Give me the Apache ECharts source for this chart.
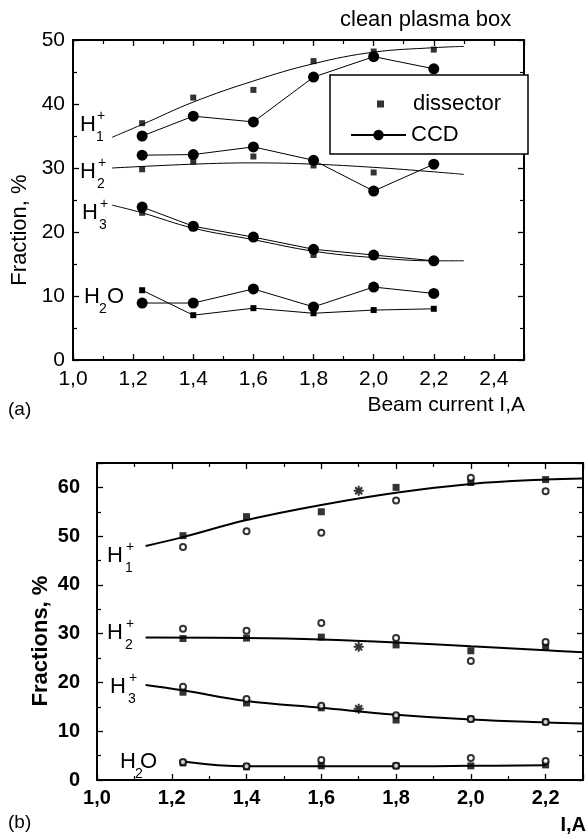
<!DOCTYPE html>
<html><head><meta charset="utf-8">
<script src="https://cdn.jsdelivr.net/npm/echarts@6/dist/echarts.min.js"></script>
<style>html,body{margin:0;padding:0;background:#fff}#c{width:586px;height:835px}</style>
</head><body><div id="c"></div>
<script>
// ---------- Panel (a) data ----------
const xA = [1.23, 1.4, 1.6, 1.8, 2.0, 2.2];
const aH1Dissector = [37.0, 41.0, 42.2, 46.7, 48.2, 48.5];
const aH1CCD = [35.0, 38.1, 37.2, 44.2, 47.4, 45.5];
const aH2Dissector = [29.8, 31.0, 31.8, 30.4, 29.3, 30.3];
const aH2CCD = [32.0, 32.1, 33.3, 31.2, 26.4, 30.6];
const aH3Dissector = [23.0, 20.6, 19.0, 16.4, 16.2, 15.5];
const aH3CCD = [23.9, 20.9, 19.2, 17.3, 16.4, 15.5];
const aH2ODissector = [10.9, 7.0, 8.1, 7.3, 7.8, 8.0];
const aH2OCCD = [8.9, 8.9, 11.1, 8.3, 11.4, 10.4];
const aH1FitX = [1.13, 1.23, 1.4, 1.6, 1.8, 2.0, 2.2, 2.3];
const aH1Fit = [34.8, 36.8, 40.3, 43.6, 46.3, 48.1, 48.8, 49.0];
const aH2FitX = [1.13, 1.4, 1.6, 1.8, 2.0, 2.2, 2.3];
const aH2Fit = [30.0, 30.6, 30.8, 30.6, 30.1, 29.4, 29.0];
const aH3FitX = [1.13, 1.23, 1.4, 1.6, 1.8, 2.0, 2.2, 2.3];
const aH3Fit = [24.2, 23.0, 20.6, 18.8, 17.0, 16.0, 15.5, 15.5];
const xTicksA = ['1,0', '1,2', '1,4', '1,6', '1,8', '2,0', '2,2', '2,4'];
const yTicksA = ['0', '10', '20', '30', '40', '50'];

// ---------- Panel (b) data ----------
const xB = [1.23, 1.4, 1.6, 1.8, 2.0, 2.2];
const bH1Square = [50.1, 54.0, 55.0, 60.0, 61.0, 61.6];
const bH1Circle = [47.8, 51.0, 50.7, 57.3, 62.0, 59.2];
const bH2Square = [29.0, 29.1, 29.3, 27.7, 26.5, 27.3];
const bH2Circle = [31.0, 30.6, 32.2, 29.1, 24.4, 28.3];
const bH3Square = [18.0, 15.8, 14.8, 12.3, 12.5, 11.9];
const bH3Circle = [19.1, 16.6, 15.2, 13.3, 12.5, 11.9];
const bH2OSquare = [3.5, 2.7, 2.9, 2.9, 2.9, 3.1];
const bH2OCircle = [3.7, 2.8, 4.1, 2.9, 4.5, 3.9];
const xStar = [1.7, 1.7, 1.7];
const bStar = [59.3, 27.3, 14.6];
const bH1FitX = [1.13, 1.23, 1.4, 1.6, 1.8, 2.0, 2.2, 2.3];
const bH1Fit = [48.0, 49.8, 53.3, 56.4, 58.9, 60.7, 61.6, 61.8];
const bH2FitX = [1.13, 1.4, 1.6, 1.8, 2.0, 2.2, 2.3];
const bH2Fit = [29.2, 29.1, 28.8, 28.2, 27.4, 26.6, 26.2];
const bH3FitX = [1.13, 1.23, 1.4, 1.6, 1.8, 2.0, 2.2, 2.3];
const bH3Fit = [19.5, 18.4, 16.2, 14.8, 13.4, 12.4, 11.8, 11.6];
const bH2OFitX = [1.23, 1.4, 1.6, 1.8, 2.0, 2.2];
const bH2OFit = [3.8, 2.8, 2.8, 2.8, 2.9, 3.0];
const xTicksB = ['1,0', '1,2', '1,4', '1,6', '1,8', '2,0', '2,2'];
const yTicksB = ['0', '10', '20', '30', '40', '50', '60'];

const FONT = 'Liberation Sans, Arial, sans-serif';
const zip = (xs, ys) => xs.map((x, i) => [x, ys[i]]);
const pick = (arr, v, start, step) => {
  const k = (v - start) / step, i = Math.round(k);
  return Math.abs(k - i) < 0.01 && arr[i] !== undefined ? arr[i] : '';
};

function axis(o) {
  return {
    type: 'value', gridIndex: o.grid, position: o.pos, min: o.min, max: o.max, interval: o.interval,
    axisLine: { show: true, onZero: false, lineStyle: { color: '#000', width: o.lw } },
    axisTick: { show: true, inside: true, length: 6, lineStyle: { color: '#000', width: 1.3 } },
    minorTick: { show: true, splitNumber: 2, length: 4, lineStyle: { color: '#000', width: 1.2 } },
    splitLine: { show: false },
    axisLabel: o.labels ? {
      show: true, margin: o.margin, color: '#000', fontFamily: FONT, fontSize: o.fs, fontWeight: o.fw || 'normal',
      showMaxLabel: true, showMinLabel: true, formatter: o.labels
    } : { show: false }
  };
}

const chart = echarts.init(document.getElementById('c'), null, { renderer: 'canvas' });

const sq = (name, g, xs, ys, size) => ({ name, type: 'scatter', xAxisIndex: g * 2, yAxisIndex: g * 2, symbol: 'rect', symbolSize: size, itemStyle: { color: '#000' }, z: 4, data: zip(xs, ys) });
const fit = (name, g, xs, ys, w) => ({ name, type: 'line', xAxisIndex: g * 2, yAxisIndex: g * 2, smooth: 0.4, symbol: 'none', lineStyle: { color: '#000', width: w }, z: 3, data: zip(xs, ys) });
const ccd = (name, xs, ys) => ({ name, type: 'line', xAxisIndex: 0, yAxisIndex: 0, symbol: 'circle', symbolSize: 11, showSymbol: true, lineStyle: { color: '#000', width: 1 }, itemStyle: { color: '#000' }, z: 5, data: zip(xs, ys) });
const openC = (name, xs, ys) => ({ name, type: 'scatter', xAxisIndex: 2, yAxisIndex: 2, symbol: 'emptyCircle', symbolSize: 6, itemStyle: { color: '#000', borderWidth: 1.6 }, z: 5, data: zip(xs, ys) });

const txt = (x, y, text, size, opts) => Object.assign({
  type: 'text', x, y, z: 30,
  style: { text, fill: '#000', font: (opts && opts.weight ? opts.weight + ' ' : '') + size + 'px ' + FONT,
    textAlign: (opts && opts.align) || 'left', textVerticalAlign: 'middle', align: (opts && opts.align) || 'left', verticalAlign: 'middle' }
}, opts && opts.rotation ? { rotation: opts.rotation } : {});

const hLabel = (x, y, sub, sup, size, subSize, dx) => {
  const els = [txt(x, y, 'H', size)];
  els.push(txt(x + dx, y + size * 0.55, sub, subSize));
  if (sup) els.push(txt(x + dx + 1, y - size * 0.38, sup, subSize));
  return els;
};

const graphics = [
  { type: 'rect', z: 10, shape: { x: 330, y: 75, width: 198, height: 79 }, style: { fill: '#fff', stroke: '#000', lineWidth: 1.5 } },
  txt(340, 20, 'clean plasma box', 22),
  txt(20, 230, 'Fraction, %', 22, { align: 'center', rotation: Math.PI / 2 }),
  txt(525, 405, 'Beam current I,A', 21, { align: 'right' }),
  txt(8, 410, '(a)', 19),
  txt(41, 641, 'Fractions, %', 22, { align: 'center', rotation: Math.PI / 2, weight: 'bold' }),
  txt(586, 825, 'I,A', 20, { align: 'right', weight: 'bold' }),
  txt(8, 823, '(b)', 19),
  ...hLabel(80, 125, '1', '+', 22, 14, 16),
  ...hLabel(80, 172, '2', '+', 22, 14, 17),
  ...hLabel(82, 213, '3', '+', 22, 14, 17),
  ...hLabel(84, 297, '2', null, 22, 14, 15),
  txt(107, 297, 'O', 22),
  ...hLabel(107, 556, '1', '+', 22, 14, 18),
  ...hLabel(107, 633, '2', '+', 22, 14, 18),
  ...hLabel(110, 687, '3', '+', 22, 14, 18),
  ...hLabel(120, 762, '2', null, 22, 14, 15),
  txt(140, 762, 'O', 22)
];

const option = {
  animation: false,
  backgroundColor: '#fff',
  grid: [
    { left: 73, top: 40, width: 451, height: 320 },
    { left: 97, top: 463, width: 493, height: 317 }
  ],
  xAxis: [
    axis({ grid: 0, pos: 'bottom', min: 1.0, max: 2.5, interval: 0.2, lw: 2, fs: 21, margin: 9, labels: v => pick(xTicksA, v, 1.0, 0.2) }),
    axis({ grid: 0, pos: 'top', min: 1.0, max: 2.5, interval: 0.2, lw: 2 }),
    axis({ grid: 1, pos: 'bottom', min: 1.0, max: 2.3, interval: 0.2, lw: 2, fs: 20, fw: 'bold', margin: 8, labels: v => pick(xTicksB, v, 1.0, 0.2) }),
    axis({ grid: 1, pos: 'top', min: 1.0, max: 2.3, interval: 0.2, lw: 2 })
  ],
  yAxis: [
    axis({ grid: 0, pos: 'left', min: 0, max: 50, interval: 10, lw: 2, fs: 21, margin: 8, labels: v => pick(yTicksA, v, 0, 10) }),
    axis({ grid: 0, pos: 'right', min: 0, max: 50, interval: 10, lw: 2 }),
    axis({ grid: 1, pos: 'left', min: 0, max: 65, interval: 10, lw: 2, fs: 20, fw: 'bold', margin: 17, labels: v => pick(yTicksB, v, 0, 10) }),
    axis({ grid: 1, pos: 'right', min: 0, max: 65, interval: 10, lw: 2 })
  ],
  legend: [
    { data: [{ name: 'dissector', icon: 'rect' }], left: 377, top: 93, padding: 0, itemWidth: 7, itemHeight: 7,
      selectedMode: false, z: 20, textStyle: { fontFamily: FONT, fontSize: 22, color: '#000', padding: [0, 0, 0, 24] } },
    { data: ['CCD'], left: 350, top: 124, padding: 0, itemWidth: 55, itemHeight: 13,
      selectedMode: false, z: 20, textStyle: { fontFamily: FONT, fontSize: 22, color: '#000' } }
  ],
  graphic: { elements: graphics },
  series: [
    sq('dissector', 0, xA, aH1Dissector, 6),
    ccd('CCD', xA, aH1CCD),
    fit('a H1 fit', 0, aH1FitX, aH1Fit, 1),
    sq('a H2 dissector', 0, xA, aH2Dissector, 6),
    ccd('a H2 CCD', xA, aH2CCD),
    fit('a H2 fit', 0, aH2FitX, aH2Fit, 1),
    sq('a H3 dissector', 0, xA, aH3Dissector, 6),
    ccd('a H3 CCD', xA, aH3CCD),
    fit('a H3 fit', 0, aH3FitX, aH3Fit, 1),
    Object.assign(sq('a H2O dissector', 0, xA, aH2ODissector, 6), { type: 'line', lineStyle: { color: '#000', width: 1 } }),
    ccd('a H2O CCD', xA, aH2OCCD),

    fit('b H1 fit', 1, bH1FitX, bH1Fit, 2),
    fit('b H2 fit', 1, bH2FitX, bH2Fit, 2),
    fit('b H3 fit', 1, bH3FitX, bH3Fit, 2),
    fit('b H2O fit', 1, bH2OFitX, bH2OFit, 2),
    sq('b H1 square', 1, xB, bH1Square, 7),
    sq('b H2 square', 1, xB, bH2Square, 7),
    sq('b H3 square', 1, xB, bH3Square, 7),
    sq('b H2O square', 1, xB, bH2OSquare, 7),
    openC('b H1 circle', xB, bH1Circle),
    openC('b H2 circle', xB, bH2Circle),
    openC('b H3 circle', xB, bH3Circle),
    openC('b H2O circle', xB, bH2OCircle),
    { name: 'b star', type: 'scatter', xAxisIndex: 2, yAxisIndex: 2, z: 6,
      symbol: 'path://M10,0L10,20M0,10L20,10M3,3L17,17M3,17L17,3', symbolSize: 10,
      itemStyle: { color: 'none', borderColor: '#000', borderWidth: 2 }, data: zip(xStar, bStar) }
  ]
};
chart.setOption(option);
</script>
</body></html>
